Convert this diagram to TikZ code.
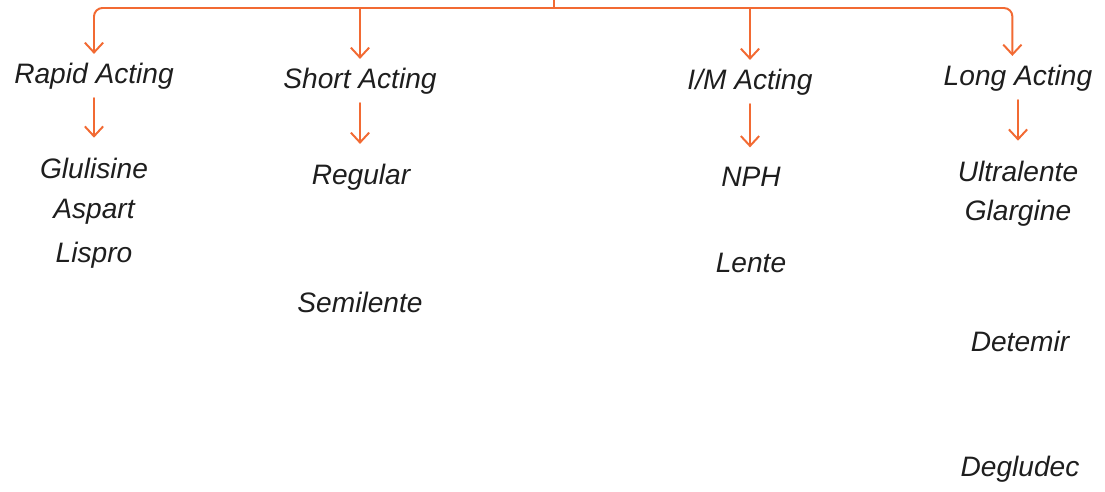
\documentclass[tikz,border=0pt]{standalone}
\usepackage{fontspec}
\setmainfont{Liberation Sans}
\usetikzlibrary{arrows.meta}
\definecolor{branchorange}{HTML}{F26A33}
\definecolor{inkgrey}{HTML}{1E1E1E}
\tikzset{
	kind/.style={text=inkgrey, font=\fontsize{20}{24}\selectfont\itshape, inner sep=6pt, text height=15pt, text depth=4pt},
	drug/.style={text=inkgrey, font=\fontsize{20}{24}\selectfont\itshape, inner sep=2pt},
	arr/.style={draw=branchorange, line width=1.4pt, -{Straight Barb[length=7pt,width=13pt,line width=1.4pt]}},
	bar/.style={draw=branchorange, line width=1.4pt}
}
\begin{document}
\begin{tikzpicture}[x=0.025cm, y=-0.025cm, line join=round, line cap=round]
	\useasboundingbox (0,0) rectangle (1105,492);
	\coordinate (top) at (554,0);
	\coordinate (split) at (554,8);
	\node[kind] (rapid) at (94,76) {Rapid Acting};
	\node[kind] (short) at (360,81) {Short Acting};
	\node[kind] (im) at (750,82) {I/M Acting};
	\node[kind] (long) at (1018,78) {Long Acting};
	\node[drug] (glulisine) at (94,168) {Glulisine};
	\node[drug] (aspart) at (94,212) {Aspart};
	\node[drug] (lispro) at (94,255) {Lispro};
	\node[drug] (regular) at (361,177) {Regular};
	\node[drug] (semilente) at (360,302) {Semilente};
	\node[drug] (nph) at (751,177) {NPH};
	\node[drug] (lente) at (751,263) {Lente};
	\node[drug] (ultralente) at (1018,171) {Ultralente};
	\node[drug] (glargine) at (1018,213) {Glargine};
	\node[drug] (detemir) at (1020,341) {Detemir};
	\node[drug] (degludec) at (1020,469) {Degludec};
	\draw[bar] (top) -- (split);
	\draw[arr, rounded corners=6] (split) -| (rapid.north);
	\draw[arr, rounded corners=6] (split) -| ([xshift=-4pt]long.north);
	\draw[arr] (short.north |- split) -- (short.north);
	\draw[arr] (im.north |- split) -- (im.north);
	\draw[arr] (rapid.south) -- ([yshift=12pt]rapid.south |- glulisine.north);
	\draw[arr] (short.south) -- ([yshift=12pt]short.south |- regular.north);
	\draw[arr] (im.south) -- ([yshift=12pt]im.south |- nph.north);
	\draw[arr] (long.south) -- ([yshift=12pt]long.south |- ultralente.north);
\end{tikzpicture}
\end{document}
